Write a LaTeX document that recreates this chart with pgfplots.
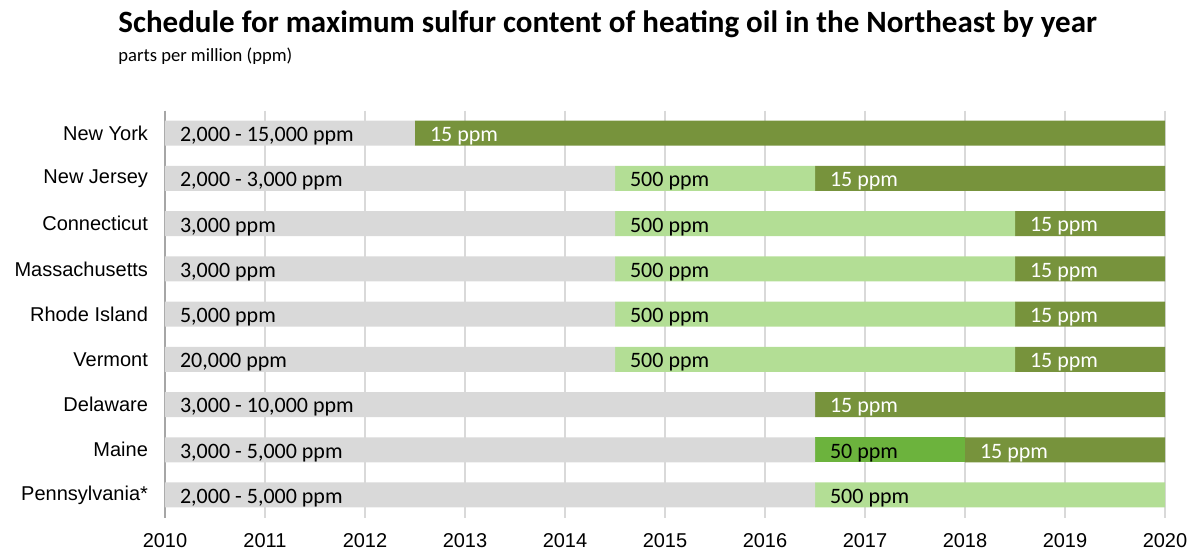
\documentclass[border=0pt]{standalone}
\usepackage{pgfplots}
\pgfplotsset{compat=1.18}
\usepackage{fontspec}
\setmainfont{Carlito}
\newfontfamily\arial{Liberation Sans}
\definecolor{bargrey}{HTML}{D9D9D9}
\definecolor{light}{HTML}{B3DE95}
\definecolor{mid}{HTML}{6CB33D}
\definecolor{dark}{HTML}{77933C}
\definecolor{gridc}{HTML}{D9D9D9}
\definecolor{axisc}{HTML}{A6A6A6}

\pgfplotstableread{
row grey light mid dark
0 2.5 0 0 7.5
1 4.5 2 0 3.5
2 4.5 4 0 1.5
3 4.5 4 0 1.5
4 4.5 4 0 1.5
5 4.5 4 0 1.5
6 6.5 0 0 3.5
7 6.5 0 1.5 2
8 6.5 3.5 0 0
}\segments

\pgfplotstableread[col sep=semicolon]{
x;row;label
0;0;2,000 - 15,000 ppm
0;1;2,000 - 3,000 ppm
4.5;1;500 ppm
0;2;3,000 ppm
4.5;2;500 ppm
0;3;3,000 ppm
4.5;3;500 ppm
0;4;5,000 ppm
4.5;4;500 ppm
0;5;20,000 ppm
4.5;5;500 ppm
0;6;3,000 - 10,000 ppm
0;7;3,000 - 5,000 ppm
6.5;7;50 ppm
0;8;2,000 - 5,000 ppm
6.5;8;500 ppm
}\blacklabels

\pgfplotstableread[col sep=semicolon]{
x;row;label
2.5;0;15 ppm
6.5;1;15 ppm
8.5;2;15 ppm
8.5;3;15 ppm
8.5;4;15 ppm
8.5;5;15 ppm
6.5;6;15 ppm
8;7;15 ppm
}\whitelabels

\pgfplotsset{
  base/.style={
    width=500pt, height=203.5pt, scale only axis,
    xmin=0, xmax=10, ymin=-0.5, ymax=8.5, y dir=reverse,
    at={(0,0)}, anchor=south west,
  }
}

\begin{document}
\begin{tikzpicture}
\path[use as bounding box] (-82.5pt,-16.2pt) rectangle (512.5pt,258.8pt);
\begin{axis}[base,
  xbar stacked, bar width=12.5pt,
  axis line style={draw=none},
  major tick length=0pt,
  xtick={0,1,2,3,4,5,6,7,8,9,10},
  xticklabels={2010,2011,2012,2013,2014,2015,2016,2017,2018,2019,2020},
  ytick={0,1,2,3,4,5,6,7,8},
  yticklabels={New York,New Jersey,Connecticut,Massachusetts,Rhode Island,Vermont,Delaware,Maine,Pennsylvania*},
  xmajorgrids, grid style={draw=gridc, line width=0.6pt},
  extra x ticks={0}, extra x tick labels={},
  extra x tick style={grid style={draw=axisc, line width=0.6pt}},
  /pgf/number format/assume math mode=true,
  ticklabel style={font=\arial\fontsize{10}{12}\selectfont, text=black},
  xticklabel style={inner sep=0pt, yshift=-7.9pt},
  yticklabel style={xshift=-5pt},
]
\addplot[fill=bargrey, draw=none] table[x=grey, y=row] {\segments};
\addplot[fill=light, draw=none] table[x=light, y=row] {\segments};
\addplot[fill=mid, draw=none] table[x=mid, y=row] {\segments};
\addplot[fill=dark, draw=none] table[x=dark, y=row] {\segments};
\end{axis}
\begin{axis}[base, hide axis, clip=false]
\addplot[only marks, mark=none, nodes near coords, point meta=explicit symbolic,
  nodes near coords style={anchor=west, xshift=4pt, yshift=-1.5pt, font=\fontsize{11}{13}\selectfont, text=black}]
  table[x=x, y=row, meta=label] {\blacklabels};
\addplot[only marks, mark=none, nodes near coords, point meta=explicit symbolic,
  nodes near coords style={anchor=west, xshift=4pt, yshift=-1.5pt, font=\fontsize{11}{13}\selectfont, text=white}]
  table[x=x, y=row, meta=label] {\whitelabels};
\end{axis}
\node[anchor=base west, inner sep=0pt, font=\bfseries\fontsize{15.5}{18}\selectfont] at (-23.5pt,242.3pt) {Schedule for maximum sulfur content of heating oil in the Northeast by year};
\node[anchor=base west, inner sep=0pt, font=\fontsize{9.3}{11}\selectfont] at (-23.5pt,227.8pt) {parts per million (ppm)};
\end{tikzpicture}
\end{document}
